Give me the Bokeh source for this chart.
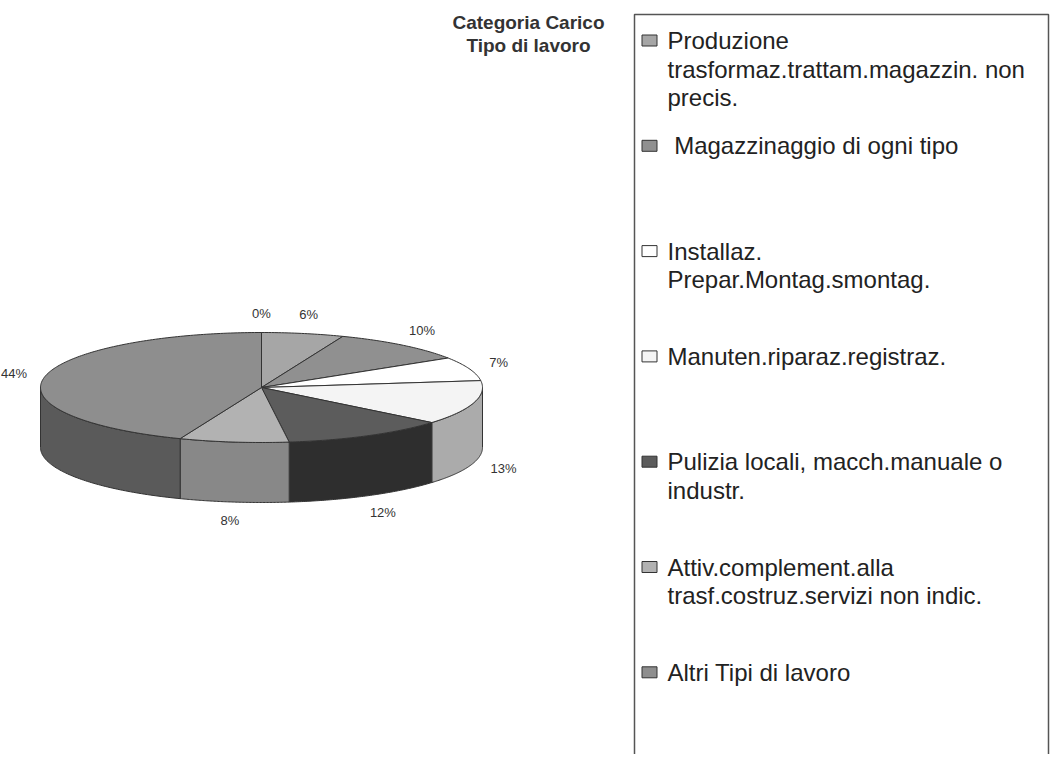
import numpy as np
from bokeh.plotting import figure
from bokeh.models import Range1d
from bokeh.core.properties import value
from bokeh.embed import file_html
from bokeh.resources import INLINE

# ---- data ----
percent = [0, 6, 10, 7, 13, 12, 8, 44]
categories = [
    None,
    "Produzione\ntrasformaz.trattam.magazzin. non\nprecis.",
    "\u00a0Magazzinaggio di ogni tipo",
    "Installaz.\nPrepar.Montag.smontag.",
    "Manuten.riparaz.registraz.",
    "Pulizia locali, macch.manuale o\nindustr.",
    "Attiv.complement.alla\ntrasf.costruz.servizi non indic.",
    "Altri Tipi di lavoro",
]
title_lines = ["Categoria Carico", "Tipo di lavoro"]

# ---- styles ----
top_colors = ["#a0a0a0", "#a6a6a6", "#909090", "#ffffff", "#f4f4f4", "#5c5c5c", "#b2b2b2", "#8e8e8e"]
side_colors = ["#707070", "#7a7a7a", "#666666", "#c8c8c8", "#ababab", "#2e2e2e", "#888888", "#5a5a5a"]
FONT = "Liberation Sans"

W, H = 1050, 754
p = figure(width=W, height=H, x_range=Range1d(0, W), y_range=Range1d(H, 0),
           output_backend="svg", toolbar_location=None, min_border=0)
p.axis.visible = False
p.grid.visible = False
p.outline_line_color = None
p.background_fill_color = "white"

# pie geometry (screen-like coordinates)
cx, cy, rx, ry, depth = 261, 387, 221, 55, 60
bounds = 2 * np.pi * np.cumsum([0] + percent) / 100.0


def ex(t):
    return cx + rx * np.sin(t)


def ey(t):
    return cy - ry * np.cos(t)


# side walls (front half only)
sx, sy, sc = [], [], []
for i in range(len(percent)):
    lo = max(bounds[i], np.pi / 2)
    hi = min(bounds[i + 1], 3 * np.pi / 2)
    if hi > lo:
        t = np.linspace(lo, hi, 80)
        sx.append(list(np.concatenate([ex(t), ex(t[::-1])])))
        sy.append(list(np.concatenate([ey(t), ey(t[::-1]) + depth])))
        sc.append(side_colors[i])
p.patches(sx, sy, fill_color=sc, line_color="#333333", line_width=1)

# top faces
tx, ty = [], []
for i in range(len(percent)):
    t = np.linspace(bounds[i], bounds[i + 1], max(2, int(percent[i] * 4) + 2))
    tx.append([cx] + list(ex(t)))
    ty.append([cy] + list(ey(t)))
p.patches(tx, ty, fill_color=top_colors, line_color="#333333", line_width=1)

# percentage labels
lx, ly, lt = [], [], []
for i in range(len(percent)):
    m = (bounds[i] + bounds[i + 1]) / 2
    lx.append(cx + 252 * np.sin(m))
    ly.append(cy - 74 * np.cos(m) + (depth if np.cos(m) < 0 else 0))
    lt.append(f"{percent[i]}%")
p.text(lx, ly, text=lt, text_font=value(FONT), text_font_size="13px",
       text_color="#333333", text_align="center", text_baseline="middle")

# title
p.text([528, 528], [22, 45], text=title_lines, text_font=value(FONT), text_font_size="19px",
       text_font_style="bold", text_color="#333333", text_align="center", text_baseline="middle")

# legend box
p.quad(left=[634], right=[1048], top=[14], bottom=[780], fill_color=None,
       line_color="#555555", line_width=1.5)

k = 0
for i, cat in enumerate(categories):
    if cat is None:
        continue
    y0 = 40 + k * 105.3
    p.rect(x=[649], y=[y0], width=15, height=11, fill_color=top_colors[i],
           line_color="#333333", line_width=1)
    lines = cat.split("\n")
    p.text([667] * len(lines), [y0 + j * 28.5 for j in range(len(lines))], text=lines,
           text_font=value(FONT), text_font_size="24px", text_color="#222222",
           text_align="left", text_baseline="middle")
    k += 1

open("out.html", "w").write(file_html(p, INLINE))
